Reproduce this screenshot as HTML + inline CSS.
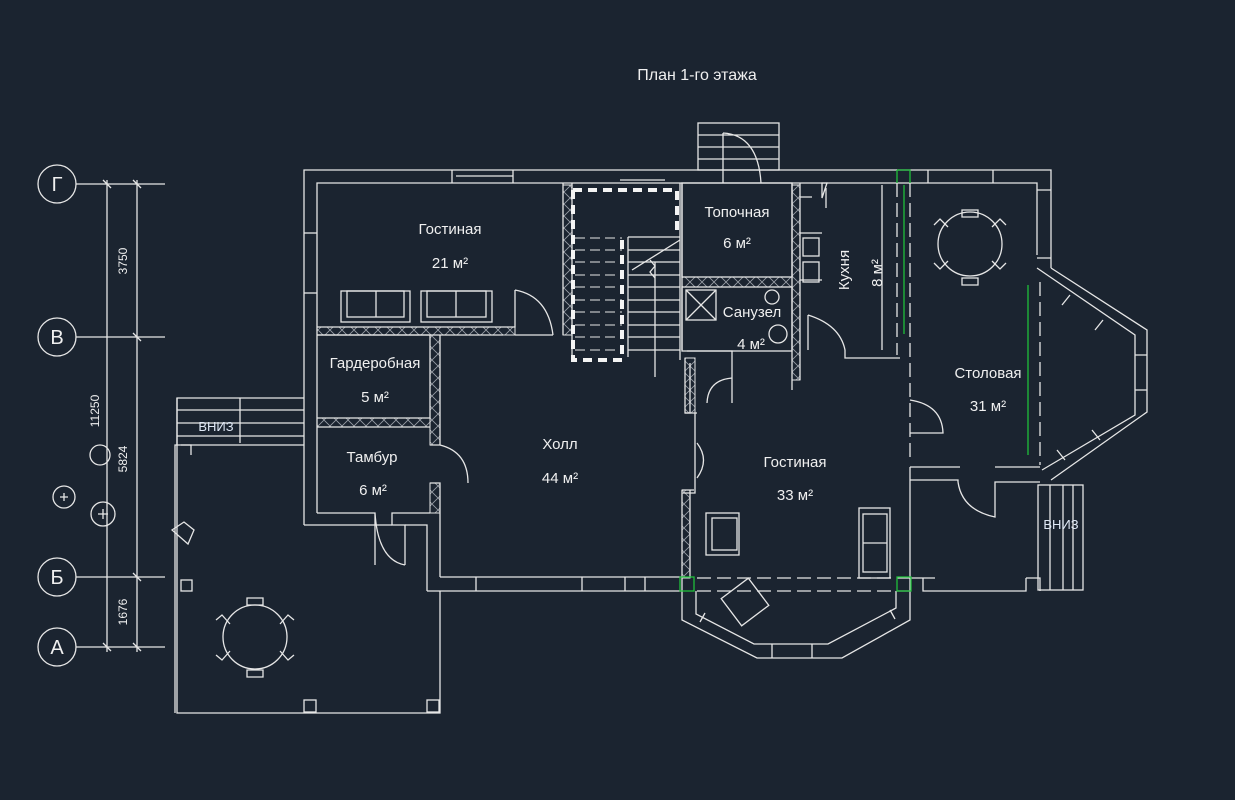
<!DOCTYPE html>
<html><head><meta charset="utf-8"><style>
html,body{margin:0;padding:0;background:#1b2430;}
svg{display:block}
text{font-family:"Liberation Sans",sans-serif;fill:#f0f0f0}
</style></head><body>
<svg width="1235" height="800" viewBox="0 0 1235 800" xmlns="http://www.w3.org/2000/svg">
<defs>
<pattern id="hx" width="12" height="12" patternUnits="userSpaceOnUse">
<path d="M0 0L12 12M12 0L0 12" stroke="#9aa0a8" stroke-width="0.8"/>
</pattern>
</defs>
<rect width="1235" height="800" fill="#1b2430"/>
<text x="697" y="80" font-size="16" text-anchor="middle">План 1-го этажа</text>

<!-- hatched walls -->
<g fill="url(#hx)" stroke="#e6e6e6" stroke-width="1">
<rect x="317" y="327" width="198" height="8"/>
<rect x="317" y="418" width="113" height="9"/>
<rect x="430" y="335" width="10" height="110"/>
<rect x="430" y="483" width="10" height="30"/>
<rect x="563" y="185" width="9" height="150"/>
<rect x="682" y="277" width="110" height="10"/>
<rect x="792" y="185" width="8" height="195"/>
<rect x="685" y="358" width="10" height="55"/>
<rect x="682" y="490" width="8" height="88"/>
</g>

<g stroke="#e6e6e6" stroke-width="1.3" fill="none">
<!-- axes -->
<circle cx="57" cy="184" r="19"/><circle cx="57" cy="337" r="19"/><circle cx="57" cy="577" r="19"/><circle cx="57" cy="647" r="19"/>
<line x1="76" y1="184" x2="165" y2="184"/><line x1="76" y1="337" x2="165" y2="337"/><line x1="76" y1="577" x2="165" y2="577"/><line x1="76" y1="647" x2="165" y2="647"/>
<line x1="107" y1="180" x2="107" y2="652"/><line x1="137" y1="180" x2="137" y2="652"/>
<path d="M103 180l8 8M133 180l8 8M133 333l8 8M133 573l8 8M103 643l8 8M133 643l8 8"/>
<circle cx="100" cy="455" r="10"/><circle cx="64" cy="497" r="11"/><circle cx="103" cy="514" r="12"/>
<path d="M60 497h8M64 493v8M98 514h10M103 509v10"/>

<!-- outer walls -->
<path d="M304 525V170H1051V268"/>
<path d="M317 513V183H1037V255"/>
<line x1="304" y1="233" x2="317" y2="233"/><line x1="304" y1="293" x2="317" y2="293"/>
<path d="M452 170v13M513 170v13M456 176h57M620 180h45"/>
<path d="M928 170v13M993 170v13"/>
<path d="M1037 190h14M1037 258h14"/>
<!-- porch top -->
<rect x="698" y="123" width="81" height="47"/>
<path d="M698 135h81M698 147h81M698 159h81M723 133V183M723 133Q758 135 761 183"/>

<!-- left rooms -->
<path d="M317 327H515V290M317 335H503V335M515 290Q548 296 553 335M515 335h38"/>
<path d="M317 335H430V418H317M317 427H430"/>
<path d="M440 335V445M430 445h10M440 445Q468 452 468 483M430 483H440V577"/>
<path d="M317 513H375V565M375 513Q378 560 405 565M405 565V525H392V513H430"/>
<path d="M304 525H392M405 525H427V591"/>
<path d="M440 577H682M427 591H682M476 577v14M582 577v14M625 577v14M645 577v14"/>
<!-- terrace -->
<path d="M304 398H177V713H440V591"/><path d="M177 398V445h-2V713"/>
<path d="M177 410h127M177 423h127M177 436h127M177 445h127M240 398v45"/>
<path d="M181 445h10v10"/>
<rect x="181" y="580" width="11" height="11"/><rect x="304" y="700" width="12" height="12"/><rect x="427" y="700" width="12" height="12"/>
<circle cx="255" cy="637" r="32"/>
<path d="M247 598h16v7h-16zM247 670h16v7h-16zM216 620l6 -5 8 9M216 655l6 5 8-9M294 620l-6-5-8 9M294 655l-6 5-8-9"/>
<path d="M172 530l12-8 10 8-6 14z"/>
<!-- sofas -->
<rect x="341" y="291" width="69" height="31"/><rect x="347" y="291" width="57" height="26"/><line x1="376" y1="291" x2="376" y2="317"/>
<rect x="421" y="291" width="71" height="31"/><rect x="427" y="291" width="59" height="26"/><line x1="456" y1="291" x2="456" y2="317"/>

<!-- stair -->
<path d="M563 183v152M572 183v175M628 237v120M628 237h52" />
<path d="M628 250h52M628 262h52M628 275h52M628 287h52M628 300h52M628 312h52M628 325h52M628 337h52M628 350h52M655 262v115"/>
<path d="M632 270l48-30M650 260l5 6-5 6 5 6"/>
<g stroke-dasharray="10 5" stroke-width="1"><path d="M575 238h47M575 250h47M575 262h47M575 275h47M575 287h47M575 300h47M575 312h47M575 325h47M575 337h47M575 350h47"/></g>
<path d="M680 183v177M682 183V350"/>

<!-- right block -->
<rect x="682" y="183" width="110" height="94"/>
<rect x="682" y="287" width="110" height="64"/>
<rect x="686" y="290" width="30" height="30"/><path d="M686 290l30 30M716 290l-30 30"/>
<circle cx="772" cy="297" r="7"/><circle cx="778" cy="334" r="9"/>
<path d="M792 183v207M800 183v197M800 197h12M800 233h22M800 280h22M822 183h5l-5 15zM826 188v20"/>
<rect x="803" y="238" width="16" height="18"/><rect x="803" y="262" width="16" height="20"/>
<line x1="882" y1="185" x2="882" y2="350"/>
<path d="M687 351h45v52M732 378Q708 380 707 403M690 363v50h-5"/>
<path d="M808 315Q840 325 845 350V358h55M808 315V350"/>
<path d="M685 358v55h10M685 413H697M695 413v40"/>
<path d="M695 453v40h-12"/>
<path d="M682 490v88M690 490v88M682 490h12M697 478Q710 460 697 443"/>
<!-- dashed column -->
<g stroke-dasharray="14 6"><line x1="897" y1="183" x2="897" y2="355"/><line x1="910" y1="183" x2="910" y2="460"/>
<line x1="1040" y1="282" x2="1040" y2="465"/><line x1="697" y1="578" x2="910" y2="578"/><line x1="697" y1="591" x2="910" y2="591"/></g>
<path d="M910 400Q942 405 943 433H910"/>
<!-- dining -->
<circle cx="970" cy="244" r="32"/>
<path d="M962 210h16v7h-16zM962 278h16v7h-16zM934 225l6-6 8 8M1006 225l-6-6-8 8M934 263l6 6 8-8M1006 263l-6 6-8-8"/>
<!-- bay right -->
<path d="M1037 268L1135 335V415L1042 470M1051 268L1147 330V412L1051 480"/>
<path d="M1070 295l-8 10M1103 320l-8 10M1135 355h12M1135 390h12M1100 440l-8-10M1065 460l-8-10"/>
<!-- lower right room -->
<path d="M910 467V578H935M910 480h48V482M958 482Q962 510 995 517V482H1040M910 467h50M995 467h45"/>
<path d="M923 578v13h103v-13M1026 578h14v13"/>
<rect x="1038" y="485" width="45" height="105"/>
<path d="M1050 485v105M1063 485v105M1073 485v105"/>
<!-- bottom bay -->
<path d="M682 578v42l75 38h85l68-38V578M696 591v23l58 30h74l68-36V591"/>
<path d="M772 644v14M812 644v14M705 613l-5 9M890 610l5 9"/>
<!-- furniture lower -->
<rect x="706" y="513" width="33" height="42"/><rect x="712" y="518" width="25" height="32"/>
<rect x="859" y="508" width="31" height="70"/><rect x="863" y="514" width="24" height="58"/><line x1="863" y1="543" x2="887" y2="543"/>
<rect x="728" y="585" width="34" height="34" transform="rotate(-37 745 602)"/>
</g>
<!-- thick dashed stair outline -->
<g stroke="#f4f4f4" stroke-width="4" fill="none" stroke-dasharray="9 6">
<path d="M573 190H677V230M573 190V360H622V240"/></g>
<!-- green lines -->
<g stroke="#1fbf3a" stroke-width="1.3" fill="none">
<path d="M897 170V183M897 170h13V183M904 185V334M1028 285V455"/>
<rect x="680" y="577" width="14" height="14"/><rect x="897" y="577" width="14" height="14"/>
</g>

<g font-size="15" text-anchor="middle">
<text x="450" y="234">Гостиная</text><text x="450" y="268">21 м²</text>
<text x="375" y="368">Гардеробная</text><text x="375" y="402">5 м²</text>
<text x="372" y="462">Тамбур</text><text x="373" y="495">6 м²</text>
<text x="560" y="449">Холл</text><text x="560" y="483">44 м²</text>
<text x="737" y="217">Топочная</text><text x="737" y="248">6 м²</text>
<text x="752" y="317">Санузел</text><text x="751" y="349">4 м²</text>
<text x="795" y="467">Гостиная</text><text x="795" y="500">33 м²</text>
<text x="988" y="378">Столовая</text><text x="988" y="411">31 м²</text>
<text transform="translate(849 270) rotate(-90)">Кухня</text>
<text transform="translate(882 273) rotate(-90)">8 м²</text>
</g>
<g font-size="12" text-anchor="middle">
<text transform="translate(127 261) rotate(-90)">3750</text>
<text transform="translate(99 411) rotate(-90)">11250</text>
<text transform="translate(127 459) rotate(-90)">5824</text>
<text transform="translate(127 612) rotate(-90)">1676</text>
</g>
<g font-size="13" text-anchor="middle">
<text x="216" y="431" style="fill:#dfe8f5">ВНИЗ</text>
<text x="1061" y="529" style="fill:#dfe8f5">ВНИЗ</text>
</g>
<g font-size="20" text-anchor="middle">
<text x="57" y="191">Г</text><text x="57" y="344">В</text><text x="57" y="584">Б</text><text x="57" y="654">А</text>
</g>
</svg>
</body></html>
